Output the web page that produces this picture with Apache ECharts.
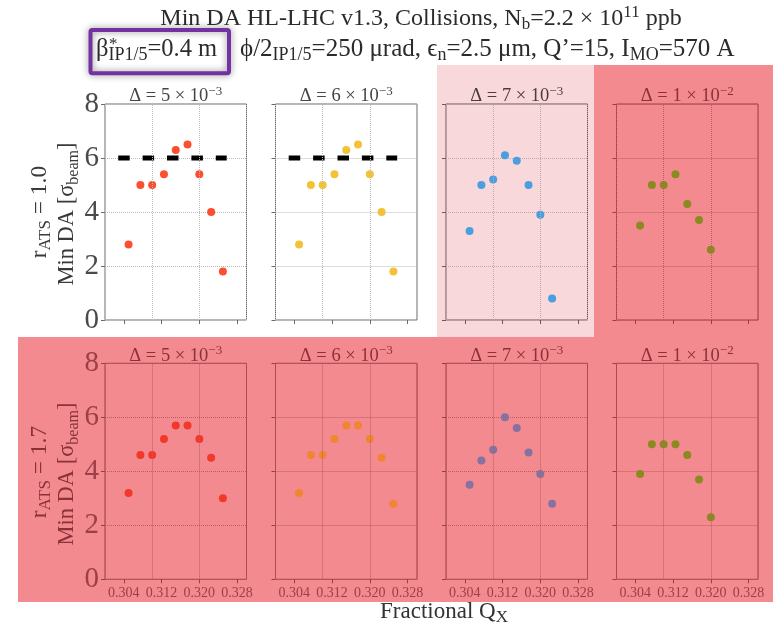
<!DOCTYPE html>
<html>
<head>
<meta charset="utf-8">
<script src="https://cdn.jsdelivr.net/npm/echarts@6/dist/echarts.min.js"></script>
<style>
  html, body { margin: 0; padding: 0; background: #fff; }
  #chart { width: 775px; height: 625px; }
</style>
</head>
<body>
<div id="chart"></div>
<script>
// ---- data ----------------------------------------------------------------
// Fractional horizontal tune of the scan points
const qxScan = [0.305, 0.3075, 0.310, 0.3125, 0.315, 0.3175, 0.320, 0.3225, 0.325];
const qxTicks = [0.304, 0.312, 0.320, 0.328];
const daTicks = [0, 2, 4, 6, 8];

// Tune split Δ shown above each column: mantissa and power of ten
const deltaMantissa = ['5', '6', '7', '1'];
const deltaExponent = ['−3', '−3', '−3', '−2'];
const rAtsValues = ['1.0', '1.7'];

// Minimum dynamic aperture [σ_beam], r_ATS = 1.0
const daR10D5  = [2.8, 5.0, 5.0, 5.4, 6.3, 6.5, 5.4, 4.0, 1.8];
const daR10D6  = [2.8, 5.0, 5.0, 5.4, 6.3, 6.5, 5.4, 4.0, 1.8];
const daR10D7  = [3.3, 5.0, 5.2, 6.1, 5.9, 5.0, 3.9, 0.8];
const daR10D10 = [3.5, 5.0, 5.0, 5.4, 4.3, 3.7, 2.6];
// Minimum dynamic aperture [σ_beam], r_ATS = 1.7
const daR17D5  = [3.2, 4.6, 4.6, 5.2, 5.7, 5.7, 5.2, 4.5, 3.0];
const daR17D6  = [3.2, 4.6, 4.6, 5.2, 5.7, 5.7, 5.2, 4.5, 2.8];
const daR17D7  = [3.5, 4.4, 4.8, 6.0, 5.6, 4.7, 3.9, 2.8];
const daR17D10 = [3.9, 5.0, 5.0, 5.0, 4.6, 3.7, 2.3];

// DA target reference line
const targetDA = 6;
const targetQxRange = [0.3028, 0.3258];

// ---- styling -------------------------------------------------------------
const SERIF = "'Liberation Serif', 'DejaVu Serif', serif";
const themes = {
  white:  { bg: null,      axis: '#6a6a6a', grid: '#bcbcbc', text: '#444444', label: '#4a4a4a' },
  light:  { bg: '#F9D8DB', axis: '#6e5557', grid: '#c4a6a9', text: '#4d3b3d', label: '#4d3b3d' },
  salmon: { bg: '#F38A90', axis: '#9a3d43', grid: '#bb5d63', text: '#8a3238', label: '#9b4046' }
};

const panels = [
  { row: 0, col: 0, theme: 'white',  color: '#FC4F30', da: daR10D5,  target: true },
  { row: 0, col: 1, theme: 'white',  color: '#F3C236', da: daR10D6,  target: true },
  { row: 0, col: 2, theme: 'light',  color: '#4A9FE0', da: daR10D7,  target: false },
  { row: 0, col: 3, theme: 'salmon', color: '#8A8A20', da: daR10D10, target: false },
  { row: 1, col: 0, theme: 'salmon', color: '#F2382A', da: daR17D5,  target: false },
  { row: 1, col: 1, theme: 'salmon', color: '#F0862F', da: daR17D6,  target: false },
  { row: 1, col: 2, theme: 'salmon', color: '#86729F', da: daR17D7,  target: false },
  { row: 1, col: 3, theme: 'salmon', color: '#8A8A20', da: daR17D10, target: false }
];

const colLeft = [105, 275.5, 446, 616.5];
const rowTop = [104, 363.3];
const panelW = 141.5;
const panelH = 216;

// ---- build grids / axes / series ------------------------------------------
const grids = [], xAxes = [], yAxes = [], series = [];
panels.forEach((p, i) => {
  const th = themes[p.theme];
  grids.push({
    left: colLeft[p.col], top: rowTop[p.row], width: panelW, height: panelH,
    show: true, borderColor: th.axis, borderWidth: 1, backgroundColor: 'transparent'
  });
  xAxes.push({
    gridIndex: i, type: 'value', min: 0.300, max: 0.330,
    axisLine: { show: false },
    axisTick: { show: true, inside: false, length: 4, customValues: qxTicks,
                lineStyle: { color: th.axis, width: 1 } },
    axisLabel: { show: p.row === 1, customValues: qxTicks, margin: 7,
                 formatter: v => v.toFixed(3), fontSize: 14, fontFamily: SERIF, color: th.label },
    splitLine: { show: false }
  });
  yAxes.push({
    gridIndex: i, type: 'value', min: 0, max: 8, interval: 2,
    axisLine: { show: false },
    axisTick: { show: true, inside: false, length: 4, lineStyle: { color: th.axis, width: 1 } },
    axisLabel: { show: p.col === 0, margin: 6, fontSize: 29, fontFamily: SERIF, color: th.label,
                 customValues: daTicks, padding: [5, 0, 0, 0] },
    splitLine: { show: true, lineStyle: { type: 'dotted', color: th.grid, width: 1 } }
  });
  // vertical grid lines at the labelled tune values
  series.push({
    type: 'scatter', xAxisIndex: i, yAxisIndex: i, data: [], z: 1, silent: true,
    markLine: {
      silent: true, symbol: 'none', label: { show: false }, emphasis: { disabled: true },
      lineStyle: { type: 'dotted', color: th.grid, width: 1 },
      data: qxTicks.map(v => ({ xAxis: v }))
    }
  });
  series.push({
    type: 'scatter', xAxisIndex: i, yAxisIndex: i, z: 3, symbolSize: 8,
    itemStyle: { color: p.color, opacity: 1 },
    data: p.da.map((v, k) => [qxScan[k], v])
  });
  if (p.target) {
    series.push({
      type: 'line', xAxisIndex: i, yAxisIndex: i, z: 4, symbol: 'none', silent: true,
      lineStyle: { color: '#000', width: 5, type: [11.5, 12.9], cap: 'butt' },
      data: targetQxRange.map(x => [x, targetDA])
    });
  }
});

// ---- text helpers ---------------------------------------------------------
function rich(base, color) {
  const small = Math.round(base * 0.72);
  return {
    sub: { fontSize: small, fontFamily: SERIF, fill: color, verticalAlign: 'bottom' },
    sup: { fontSize: small, fontFamily: SERIF, fill: color, verticalAlign: 'top' }
  };
}
function label(text, x, y, size, color, opts) {
  opts = opts || {};
  return {
    type: 'text', x: x, y: y, rotation: opts.rotation || 0, z: 10, silent: true,
    style: {
      text: text, fontSize: size, fontFamily: SERIF, fill: color,
      align: opts.align || 'center', verticalAlign: 'middle',
      lineHeight: opts.lineHeight || Math.round(size * 1.22),
      rich: rich(size, color)
    }
  };
}

const TITLE_INK = '#2b2b2b';
const graphics = [
  // highlighted panel backgrounds
  { type: 'rect', z: -20, silent: true, shape: { x: 437, y: 65, width: 157, height: 272 },
    style: { fill: themes.light.bg } },
  { type: 'rect', z: -20, silent: true, shape: { x: 594, y: 65, width: 179, height: 272 },
    style: { fill: themes.salmon.bg } },
  { type: 'rect', z: -20, silent: true, shape: { x: 18, y: 337, width: 755, height: 265 },
    style: { fill: themes.salmon.bg } },
  // figure title
  label('Min DA HL-LHC v1.3, Collisions, N{sub|b}=2.2 × 10{sup|11} ppb', 421, 19, 24, TITLE_INK,
        { lineHeight: 29 }),
  label('β{sub|IP1/5}=0.4 m', 96, 49.5, 24.5, TITLE_INK, { align: 'left', lineHeight: 29 }),
  label('*', 109, 45, 17, TITLE_INK, { align: 'left' }),
  label('ϕ/2{sub|IP1/5}=250 μrad, ϵ{sub|n}=2.5 μm, Q’=15, I{sub|MO}=570 A', 240, 49.5, 25, TITLE_INK,
        { align: 'left', lineHeight: 29 }),
  // β* highlight frame
  { type: 'rect', z: 11, silent: true, shape: { x: 90.5, y: 30, width: 138.5, height: 43.3, r: 2 },
    style: { fill: 'none', stroke: '#7232A2', lineWidth: 4,
             shadowBlur: 7, shadowColor: 'rgba(0,0,0,0.45)' } },
  // shared x-axis title
  label('Fractional Q{sub|X}', 444, 612, 23, '#333333', { lineHeight: 29 })
];

// row titles
rAtsValues.forEach((r, row) => {
  const cy = row === 0 ? 212 : 472;
  const color = row === 0 ? '#3a3a3a' : '#8a3238';
  graphics.push(label('r{sub|ATS} = ' + r, 40, cy, 23.5, color, { rotation: Math.PI / 2, lineHeight: 29 }));
  graphics.push(label('Min DA [σ{sub|beam}]', 67, cy + 2, 22.5, color, { rotation: Math.PI / 2, lineHeight: 29 }));
});

// panel titles
panels.forEach(p => {
  const th = themes[p.theme];
  const cx = colLeft[p.col] + panelW / 2;
  const cy = p.row === 0 ? 96.5 : 355.8;
  graphics.push(label('Δ = ' + deltaMantissa[p.col] + ' × 10{sup|' + deltaExponent[p.col] + '}',
                      cx, cy, 18.5, th.text, { lineHeight: 23 }));
});

const chart = echarts.init(document.getElementById('chart'), null, { renderer: 'canvas' });
chart.setOption({
  animation: false,
  backgroundColor: '#ffffff',
  grid: grids,
  xAxis: xAxes,
  yAxis: yAxes,
  series: series,
  graphic: { elements: graphics }
});
</script>
</body>
</html>
